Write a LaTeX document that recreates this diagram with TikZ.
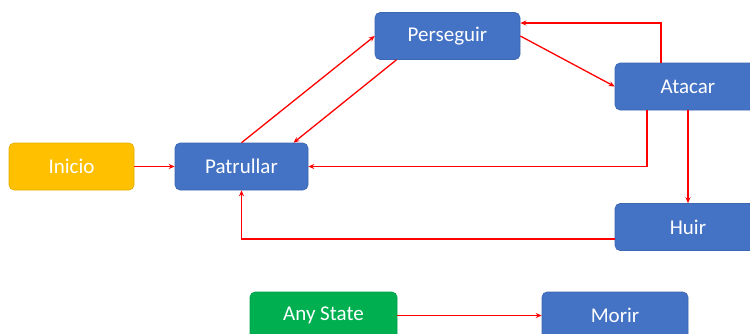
\documentclass[tikz,border=0pt]{standalone}
\usepackage{fontspec}
\setmainfont{Carlito}
\usetikzlibrary{arrows.meta}
\definecolor{azulestado}{HTML}{4472C4}
\definecolor{amarelo}{HTML}{FFC000}
\definecolor{verde}{HTML}{00B050}

\begin{document}
\begin{tikzpicture}[x=1pt,y=-1pt,
	estado/.style={rounded corners=5pt,fill=azulestado,draw=azulestado!90!black,line width=0.6pt,
	               text=white,minimum height=47pt,inner sep=0pt,font=\fontsize{21}{24}\selectfont},
	seta/.style={draw=red,line width=1.3pt,-{Stealth[length=6pt,width=5pt]}}]
			\useasboundingbox (0,0) rectangle (750,333);
			\clip (0,0) rectangle (750,333);
			\node [estado,fill=amarelo,draw=amarelo!90!black,minimum width=125pt] (inicio) at (71.5,166.5) {Inicio};
			\node [estado,minimum width=133pt] (patrullar) at (241.5,166.5) {Patrullar};
			\node [estado,minimum width=145pt] (perseguir) at (447.5,36) {Perseguir};
			\node [estado,minimum width=146pt] (atacar) at (688,86.5) {Atacar};
			\node [estado,minimum width=146pt] (huir) at (688,227) {Huir};
			\node [estado,fill=verde,draw=verde!90!black,minimum width=147pt] (anystate) at (323.5,315.5) {Any State};
			\node [estado,minimum width=146pt] (morir) at (615,315.5) {Morir};

			\draw [seta] (inicio.east) -- (patrullar.west);
			\draw [seta] (patrullar.north) -- (perseguir.west);
			\draw [seta] ([xshift=-51pt]perseguir.south) -- ([xshift=52pt]patrullar.north);
			\draw [seta] (perseguir.east) -- (atacar.west);
			\draw [seta] ([xshift=-27pt]atacar.north) |- ([yshift=13pt]perseguir.east);
			\draw [seta] ([xshift=-41pt]atacar.south) |- (patrullar.east);
			\draw [seta] (atacar.south) -- (huir.north);
			\draw [seta] ([yshift=-12pt]huir.west) -| (patrullar.south);
			\draw [seta] (anystate.east) -- (morir.west);
		\end{tikzpicture}
\end{document}
